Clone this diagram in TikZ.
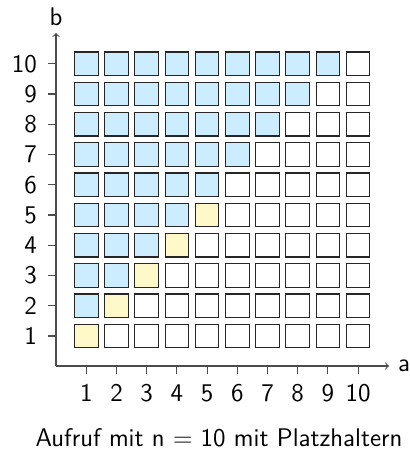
\documentclass[tikz,border=0pt]{standalone}
\usepackage{fontspec}
\definecolor{cellblue}{RGB}{204,236,255}
\definecolor{cellyellow}{RGB}{255,248,200}
\begin{document}
\begin{tikzpicture}[x=0.02cm,y=-0.02cm,
  every node/.style={font=\sffamily\fontsize{14.5}{17}\selectfont},
  cell/.style={draw=black!85,line width=0.6pt,minimum size=0.47cm,inner sep=0pt,outer sep=0pt},
  axis/.style={draw=black!70,line width=0.6pt},
  ticklbl/.style={inner sep=1pt}]
\useasboundingbox (0,0) rectangle (409,452);
% cells
\foreach \b in {1,...,10}{
  \foreach \a in {1,...,10}{
    \pgfmathsetmacro{\cx}{86.3+30.2*(\a-1)}
    \pgfmathsetmacro{\cy}{336-30.25*(\b-1)}
    \ifnum\a<\b
      \node[cell,fill=cellblue] (c-\a-\b) at (\cx,\cy) {};
    \else
      \ifnum\a=\b
        \ifnum\a<6
          \node[cell,fill=cellyellow] (c-\a-\b) at (\cx,\cy) {};
        \else
          \node[cell,fill=white] (c-\a-\b) at (\cx,\cy) {};
        \fi
      \else
        \node[cell,fill=white] (c-\a-\b) at (\cx,\cy) {};
      \fi
    \fi
  }
}
% axes
\coordinate (O) at (56,366);
\coordinate (xend) at (389,366);
\coordinate (yend) at (56,33);
\draw[axis,->,>=to] (O) -- (xend);
\draw[axis,->,>=to] (O) -- (yend);
\node[anchor=west,inner sep=5pt] (alabel) at (xend) {a};
\node[anchor=south,inner sep=4pt] (blabel) at (yend) {b};
% ticks
\foreach \a in {1,...,10}{
  \pgfmathsetmacro{\cx}{86.3+30.2*(\a-1)}
  \draw[axis] (\cx,366) -- (\cx,374);
  \node[ticklbl] (xl-\a) at (\cx,393) {\a};
}
\foreach \b in {1,...,10}{
  \pgfmathsetmacro{\cy}{336-30.25*(\b-1)}
  \draw[axis] (48,\cy) -- (56,\cy);
  \node[ticklbl,anchor=east] (yl-\b) at (39,\cy) {\b};
}
\node (caption) at (219,438) {Aufruf mit n = 10 mit Platzhaltern};
\end{tikzpicture}
\end{document}
